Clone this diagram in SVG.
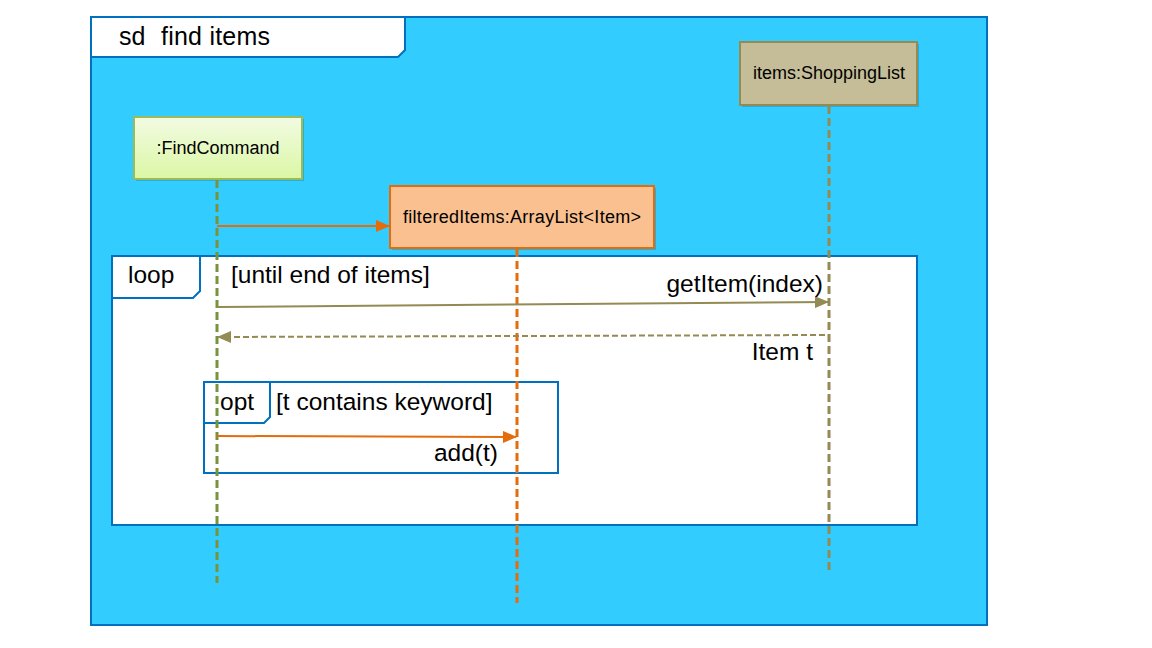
<svg xmlns="http://www.w3.org/2000/svg" width="1152" height="648" viewBox="0 0 1152 648">
<style>
text{font-family:"Liberation Sans",Arial,sans-serif;fill:#000}
.frame{fill:#fff;stroke:#0070C0;stroke-width:2}
.lbl{font-size:24.5px}
.nl{font-size:18px}
</style>
<defs>
<linearGradient id="gG" x1="0" y1="0" x2="0" y2="1"><stop offset="0" stop-color="#F2FBE3"/><stop offset="1" stop-color="#DBF7A4"/></linearGradient>
<marker id="aO" markerWidth="14" markerHeight="12" refX="13" refY="6" orient="auto" markerUnits="userSpaceOnUse"><path d="M0,0 L14,6 L0,12 z" fill="#E46C0A"/></marker>
<marker id="aK" markerWidth="14" markerHeight="12" refX="13" refY="6" orient="auto" markerUnits="userSpaceOnUse"><path d="M0,0 L14,6 L0,12 z" fill="#948A54"/></marker>
</defs>
<rect width="1152" height="648" fill="#fff"/>
<g id="sd-frame">
<rect x="91" y="17" width="896" height="608" fill="#33CCFF" stroke="#0070C0" stroke-width="2"/>
<path class="frame" d="M91,17 H405 V50 L398,57 H91 Z" stroke-width="3"/>
<text x="119" y="45" font-size="25">sd</text>
<text x="161" y="45" font-size="25" textLength="109">find items</text>
</g>
<g id="loop-frame">
<rect class="frame" x="112" y="256" width="805" height="269"/>
<path class="frame" d="M112,256 H200 V291 L193,298 H112 Z" stroke-width="3"/>
<text class="lbl" x="128" y="283">loop</text>
<text class="lbl" x="231" y="283">[until end of items]</text>
</g>
<g id="opt-frame">
<rect class="frame" x="204" y="382" width="354" height="91"/>
<path class="frame" d="M204,382 H270 V417 L264,423 H204 Z" stroke-width="3"/>
<text class="lbl" x="220" y="410">opt</text>
<text class="lbl" x="276" y="410">[t contains keyword]</text>
</g>
<g id="findcommand">
<rect x="136" y="119" width="168" height="62" fill="#000" opacity="0.15"/>
<rect x="134" y="117" width="168" height="62" fill="url(#gG)" stroke="#9BBB59" stroke-width="2"/>
<text class="nl" x="218" y="154" text-anchor="middle">:FindCommand</text>
<line x1="217" y1="180" x2="217" y2="583" stroke="#77933C" stroke-width="3" stroke-dasharray="8,4"/>
</g>
<g id="filtereditems">
<rect x="392" y="188" width="264" height="62" fill="#000" opacity="0.15"/>
<rect x="390" y="186" width="264" height="62" fill="#FAC090" stroke="#E46C0A" stroke-width="2"/>
<text class="nl" x="522" y="223" text-anchor="middle" textLength="238">filteredItems:ArrayList&lt;Item&gt;</text>
<line x1="517" y1="249" x2="517" y2="603" stroke="#E46C0A" stroke-width="3" stroke-dasharray="8,4"/>
</g>
<g id="shoppinglist">
<rect x="742" y="44" width="177" height="63" fill="#000" opacity="0.15"/>
<rect x="740" y="42" width="177" height="63" fill="#C4BD97" stroke="#948A54" stroke-width="2"/>
<text class="nl" x="829" y="79" text-anchor="middle">items:ShoppingList</text>
<line x1="829" y1="106" x2="829" y2="570" stroke="#948A54" stroke-width="3" stroke-dasharray="8,4"/>
</g>
<g id="connectors">
<line x1="217" y1="226" x2="389" y2="226" stroke="#E46C0A" stroke-width="2" marker-end="url(#aO)"/>
<line x1="217" y1="307" x2="828" y2="302" stroke="#948A54" stroke-width="2" marker-end="url(#aK)"/>
<text class="lbl" x="823" y="292" text-anchor="end">getItem(index)</text>
<line x1="825" y1="335" x2="218" y2="337" stroke="#948A54" stroke-width="2" stroke-dasharray="6,3" marker-end="url(#aK)"/>
<text class="lbl" x="813" y="360" text-anchor="end">Item t</text>
<line x1="217" y1="436" x2="516" y2="437" stroke="#E46C0A" stroke-width="2" marker-end="url(#aO)"/>
<text class="lbl" x="498" y="461" text-anchor="end">add(t)</text>
</g>
</svg>
